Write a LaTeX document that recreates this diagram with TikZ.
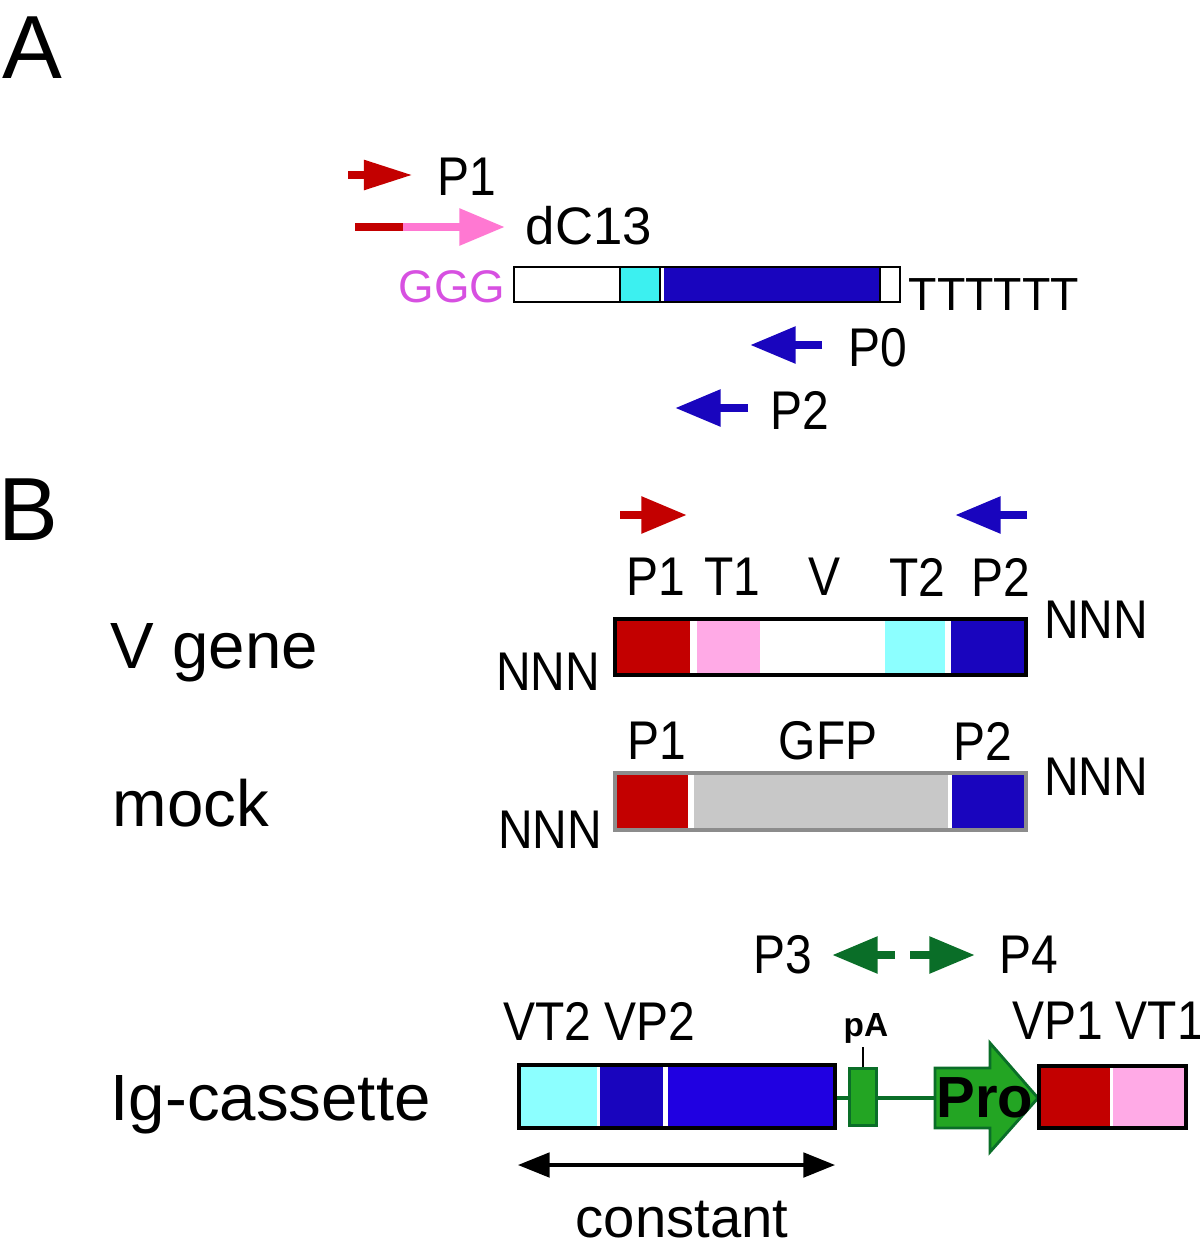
\documentclass[tikz,border=0pt]{standalone}
\usepackage{fontspec}
\setmainfont{Liberation Sans}
\newfontfamily\narrowsf[FakeStretch=0.88]{Liberation Sans}
\usepackage{tikz}
\usetikzlibrary{
    positioning,
    arrows.meta
}
\definecolor{primerRed}{RGB}{195, 0, 0}
\definecolor{primerBlue}{RGB}{25, 5, 190}
\definecolor{constBlue}{RGB}{32, 0, 225}
\definecolor{tagPink}{RGB}{255, 170, 230}
\definecolor{dcPink}{RGB}{255, 120, 210}
\definecolor{tagCyan}{RGB}{140, 255, 255}
\definecolor{aCyan}{RGB}{60, 240, 240}
\definecolor{gggMagenta}{RGB}{215, 80, 225}
\definecolor{primerGreen}{RGB}{10, 110, 40}
\definecolor{proGreen}{RGB}{35, 165, 35}
\definecolor{mockGray}{RGB}{200, 200, 200}
\definecolor{rimGray}{RGB}{140, 140, 140}
\tikzset{
    primer/.style={line width=2.4pt, -{Triangle[length=13pt, width=10pt]}},
    lbl/.style={font=\narrowsf\fontsize{15.5}{18}\selectfont, inner sep=0pt},
    biglbl/.style={font=\fontsize{18.6}{22}\selectfont, inner sep=0pt, anchor=base west},
    panel/.style={font=\fontsize{25.5}{30}\selectfont, inner sep=0pt, anchor=base west},
    rim/.style={line width=1.4pt}
}

\begin{document}
\begin{tikzpicture}[x=0.01cm, y=-0.01cm]
    \useasboundingbox (0,0) rectangle (1200,1245);

    % ---------- A ----------
    \node[panel] (labA) at (2,78) {A};
    \coordinate (p1s) at (348,175);
    \coordinate (p1e) at (413,175);
    \draw[primer, primerRed, -{Triangle[length=14pt, width=8pt]}] (p1s)--(p1e);
    \node[lbl] (p1A) at (467,177) {P1};
    \coordinate (dcs) at (355,227);
    \coordinate (dcm) at (403,227);
    \coordinate (dce) at (505,227);
    \draw[line width=2.2pt, primerRed] (dcs)--(dcm);
    \draw[primer, dcPink] (dcm)--(dce);
    \node[font=\fontsize{15}{18}\selectfont, inner sep=0pt] (dcA) at (589,226) {dC13};
    \node[font=\fontsize{13}{15}\selectfont, text=gggMagenta, inner sep=0pt, anchor=base east] (ggg) at (506,302) {GGG};
    \filldraw[fill=aCyan, line width=0.5pt] (620,267) rectangle (660,302);
    \fill[primerBlue] (664,267) rectangle (880,302);
    \draw[line width=0.5pt] (880,267)--(880,302);
    \draw[line width=0.7pt] (514,267) rectangle (900,302);
    \node[font=\fontsize{13.2}{15}\selectfont, inner sep=0pt, anchor=base west] (tails) at (908,310) {TTTTTT};
    \coordinate (p0s) at (822,345);
    \coordinate (p0e) at (750,345);
    \draw[primer, primerBlue] (p0s)--(p0e);
    \node[lbl] (p0A) at (878,348) {P0};
    \coordinate (p2s) at (748,408);
    \coordinate (p2e) at (675,408);
    \draw[primer, primerBlue] (p2s)--(p2e);
    \node[lbl] (p2A) at (800,410) {P2};

    % ---------- B ----------
    \node[panel] (labB) at (-2,540) {B};
    \coordinate (fwds) at (620,515);
    \coordinate (fwde) at (687,515);
    \coordinate (revs) at (1027,515);
    \coordinate (reve) at (955,515);
    \draw[primer, primerRed] (fwds)--(fwde);
    \draw[primer, primerBlue] (revs)--(reve);

    % V gene
    \node[lbl] (vP1) at (656,577) {P1};
    \node[lbl] (vT1) at (732,577) {T1};
    \node[lbl] (vV) at (824,577) {V};
    \node[lbl] (vT2) at (917,577) {T2};
    \node[lbl] (vP2) at (1001,577) {P2};
    \fill[primerRed] (616,620) rectangle (690,674);
    \fill[tagPink] (697,620) rectangle (760,674);
    \fill[tagCyan] (885,620) rectangle (945,674);
    \fill[primerBlue] (951,620) rectangle (1025,674);
    \draw[rim] (615,619) rectangle (1026,675);
    \node[lbl] (vNr) at (1096,620) {NNN};
    \node[lbl] (vNl) at (548,672) {NNN};
    \node[biglbl] (vgene) at (110,668) {V gene};

    % mock
    \node[lbl] (mP1) at (657,741) {P1};
    \node[lbl] (mGFP) at (828,741) {GFP};
    \node[lbl] (mP2) at (983,741) {P2};
    \fill[primerRed] (616,774) rectangle (688,829);
    \fill[mockGray] (694,774) rectangle (948,829);
    \fill[primerBlue] (952,774) rectangle (1025,829);
    \draw[rim, rimGray] (615,773) rectangle (1026,830);
    \node[lbl] (mNr) at (1096,777) {NNN};
    \node[lbl] (mNl) at (550,830) {NNN};
    \node[biglbl] (mock) at (112,826) {mock};

    % Ig-cassette
    \node[lbl] (p3) at (783,955) {P3};
    \coordinate (p3s) at (895,955);
    \coordinate (p3e) at (832,955);
    \draw[primer, primerGreen] (p3s)--(p3e);
    \coordinate (p4s) at (910,955);
    \coordinate (p4e) at (975,955);
    \draw[primer, primerGreen] (p4s)--(p4e);
    \node[lbl] (p4) at (1029,955) {P4};
    \node[lbl] (vt2vp2) at (599,1021) {VT2 VP2};
    \node[lbl] (vp1vt1) at (1108,1021) {VP1 VT1};

    \fill[tagCyan] (519,1066) rectangle (597,1127);
    \fill[primerBlue] (600,1066) rectangle (663,1127);
    \fill[constBlue] (668,1066) rectangle (835,1127);
    \draw[rim] (519,1065) rectangle (835,1128);
    \coordinate (constR) at (837,1098);
    \coordinate (proL) at (935,1098);
    \draw[primerGreen, line width=1.4pt] (constR)--(proL);

    \node[draw=primerGreen, fill=proGreen, line width=0.8pt, inner sep=0pt,
          minimum width=0.27cm, minimum height=0.57cm] (pAbox) at (863,1097) {};
    \node[font=\bfseries\fontsize{9.5}{11}\selectfont, inner sep=0pt] (pA) at (866,1028) {pA};
    \draw[line width=0.6pt] (pAbox.north)--++(0,-20);

    \filldraw[fill=proGreen, draw=primerGreen, line width=0.8pt]
        (935,1068)--(990,1068)--(990,1043)--(1038,1098)--(990,1152)--(990,1128)--(935,1128)--cycle;
    \node[font=\bfseries\fontsize{16.5}{20}\selectfont, inner sep=0pt] (pro) at (985,1098) {Pro};

    \fill[primerRed] (1040,1067) rectangle (1110,1127);
    \fill[tagPink] (1113,1067) rectangle (1185,1127);
    \draw[rim] (1039,1066) rectangle (1186,1128);

    \coordinate (cL) at (518,1165);
    \coordinate (cR) at (835,1165);
    \draw[line width=0.9pt, {Triangle[length=9pt, width=7pt]}-{Triangle[length=9pt, width=7pt]}] (cL)--(cR);
    \node[font=\fontsize{16}{19}\selectfont, inner sep=0pt, anchor=base west] (const) at (575,1237) {constant};
    \node[biglbl] (igc) at (110,1120) {Ig-cassette};
\end{tikzpicture}
\end{document}
